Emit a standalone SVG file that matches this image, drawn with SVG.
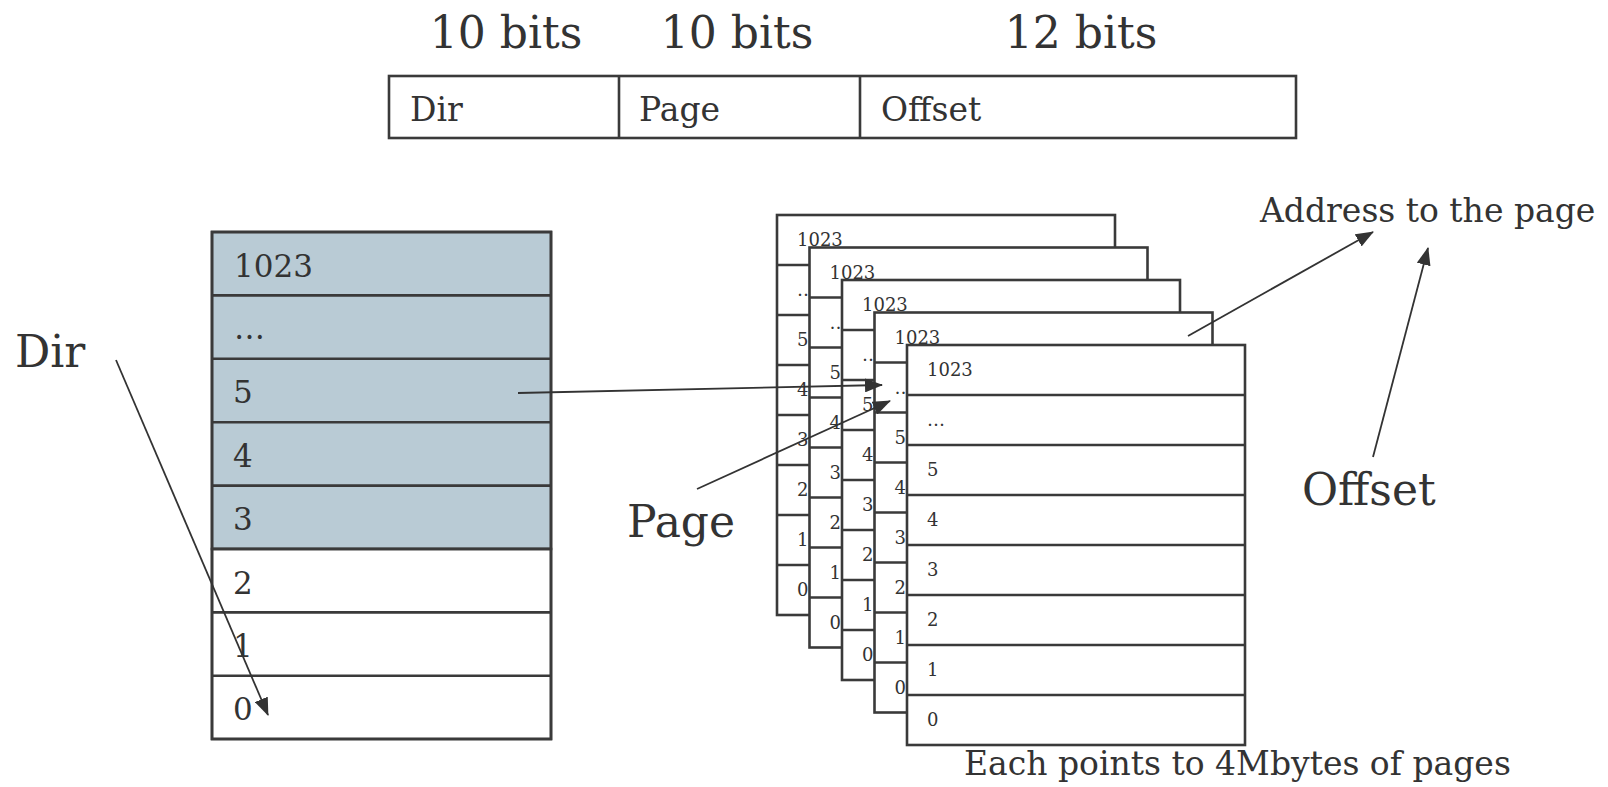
<svg xmlns="http://www.w3.org/2000/svg" xmlns:xlink="http://www.w3.org/1999/xlink" width="1608" height="787" viewBox="0 0 1608 787">
<style>
text{font-family:"DejaVu Serif","Liberation Serif",serif;fill:#333}
.big{font-size:44px}
.mid{font-size:33px}
.tbl{font-size:31px}
.sm{font-size:18px}
.box{fill:#fff;stroke:#3a3a3a;stroke-width:2.6}
.hl{fill:#b9cbd5;stroke:#3a3a3a;stroke-width:2.6}
.ln{stroke:#3a3a3a;stroke-width:2.6;fill:none}
.conn{stroke:#333;stroke-width:1.8;fill:none;marker-end:url(#ah)}
</style>
<defs>
<marker id="ah" markerUnits="userSpaceOnUse" markerWidth="18" markerHeight="14" refX="17" refY="7" orient="auto">
<path d="M0,0 L18,7 L0,14 Z" fill="#333"/>
</marker>
<g id="frame">
<rect class="box" x="0" y="0" width="338" height="400"/>
<path class="ln" d="M0,50H338M0,100H338M0,150H338M0,200H338M0,250H338M0,300H338M0,350H338"/>
<text class="sm" x="20" y="31">1023</text>
<text class="sm" x="20" y="81">…</text>
<text class="sm" x="20" y="131">5</text>
<text class="sm" x="20" y="181">4</text>
<text class="sm" x="20" y="231">3</text>
<text class="sm" x="20" y="281">2</text>
<text class="sm" x="20" y="331">1</text>
<text class="sm" x="20" y="381">0</text>
</g>
</defs>

<g id="bits-header">
<text class="big" x="506" y="48" text-anchor="middle">10 bits</text>
<text class="big" x="737" y="48" text-anchor="middle">10 bits</text>
<text class="big" x="1081" y="48" text-anchor="middle">12 bits</text>
</g>

<g id="address-format">
<rect class="box" x="389" y="76" width="907" height="62"/>
<path class="ln" d="M619,76V138M860,76V138"/>
<text class="mid" x="410" y="121">Dir</text>
<text class="mid" x="639" y="121">Page</text>
<text class="mid" x="881" y="121">Offset</text>
</g>

<g id="directory-table">
<rect class="hl" x="212" y="232" width="339" height="317"/>
<rect class="box" x="212" y="549" width="339" height="190"/>
<path class="ln" d="M212,295.4H551M212,358.8H551M212,422.2H551M212,485.6H551M212,549H551M212,612.4H551M212,675.8H551"/>
<rect class="ln" x="212" y="232" width="339" height="507"/>
<text class="tbl" x="234" y="277">1023</text>
<text class="tbl" x="234" y="339">…</text>
<text class="tbl" x="233" y="403">5</text>
<text class="tbl" x="233" y="467">4</text>
<text class="tbl" x="233" y="530">3</text>
<text class="tbl" x="233" y="594">2</text>
<text class="tbl" x="233" y="657">1</text>
<text class="tbl" x="233" y="720">0</text>
</g>

<g id="page-tables">
<use xlink:href="#frame" href="#frame" x="777" y="215"/>
<use xlink:href="#frame" href="#frame" x="809.5" y="247.5"/>
<use xlink:href="#frame" href="#frame" x="842" y="280"/>
<use xlink:href="#frame" href="#frame" x="874.5" y="312.5"/>
<use xlink:href="#frame" href="#frame" x="907" y="345"/>
</g>

<g id="labels">
<text class="big" x="15" y="367">Dir</text>
<text class="big" x="627" y="537">Page</text>
<text class="big" x="1302" y="505">Offset</text>
<text class="mid" x="1260" y="222">Address to the page</text>
<text class="mid" x="964" y="775">Each points to 4Mbytes of pages</text>
</g>

<g id="connectors">
<line class="conn" x1="116" y1="360" x2="268" y2="715"/>
<line class="conn" x1="518" y1="393" x2="882" y2="385"/>
<line class="conn" x1="697" y1="489" x2="890" y2="401"/>
<line class="conn" x1="1188" y1="336" x2="1373" y2="232"/>
<line class="conn" x1="1373" y1="457" x2="1428" y2="248"/>
</g>
</svg>
